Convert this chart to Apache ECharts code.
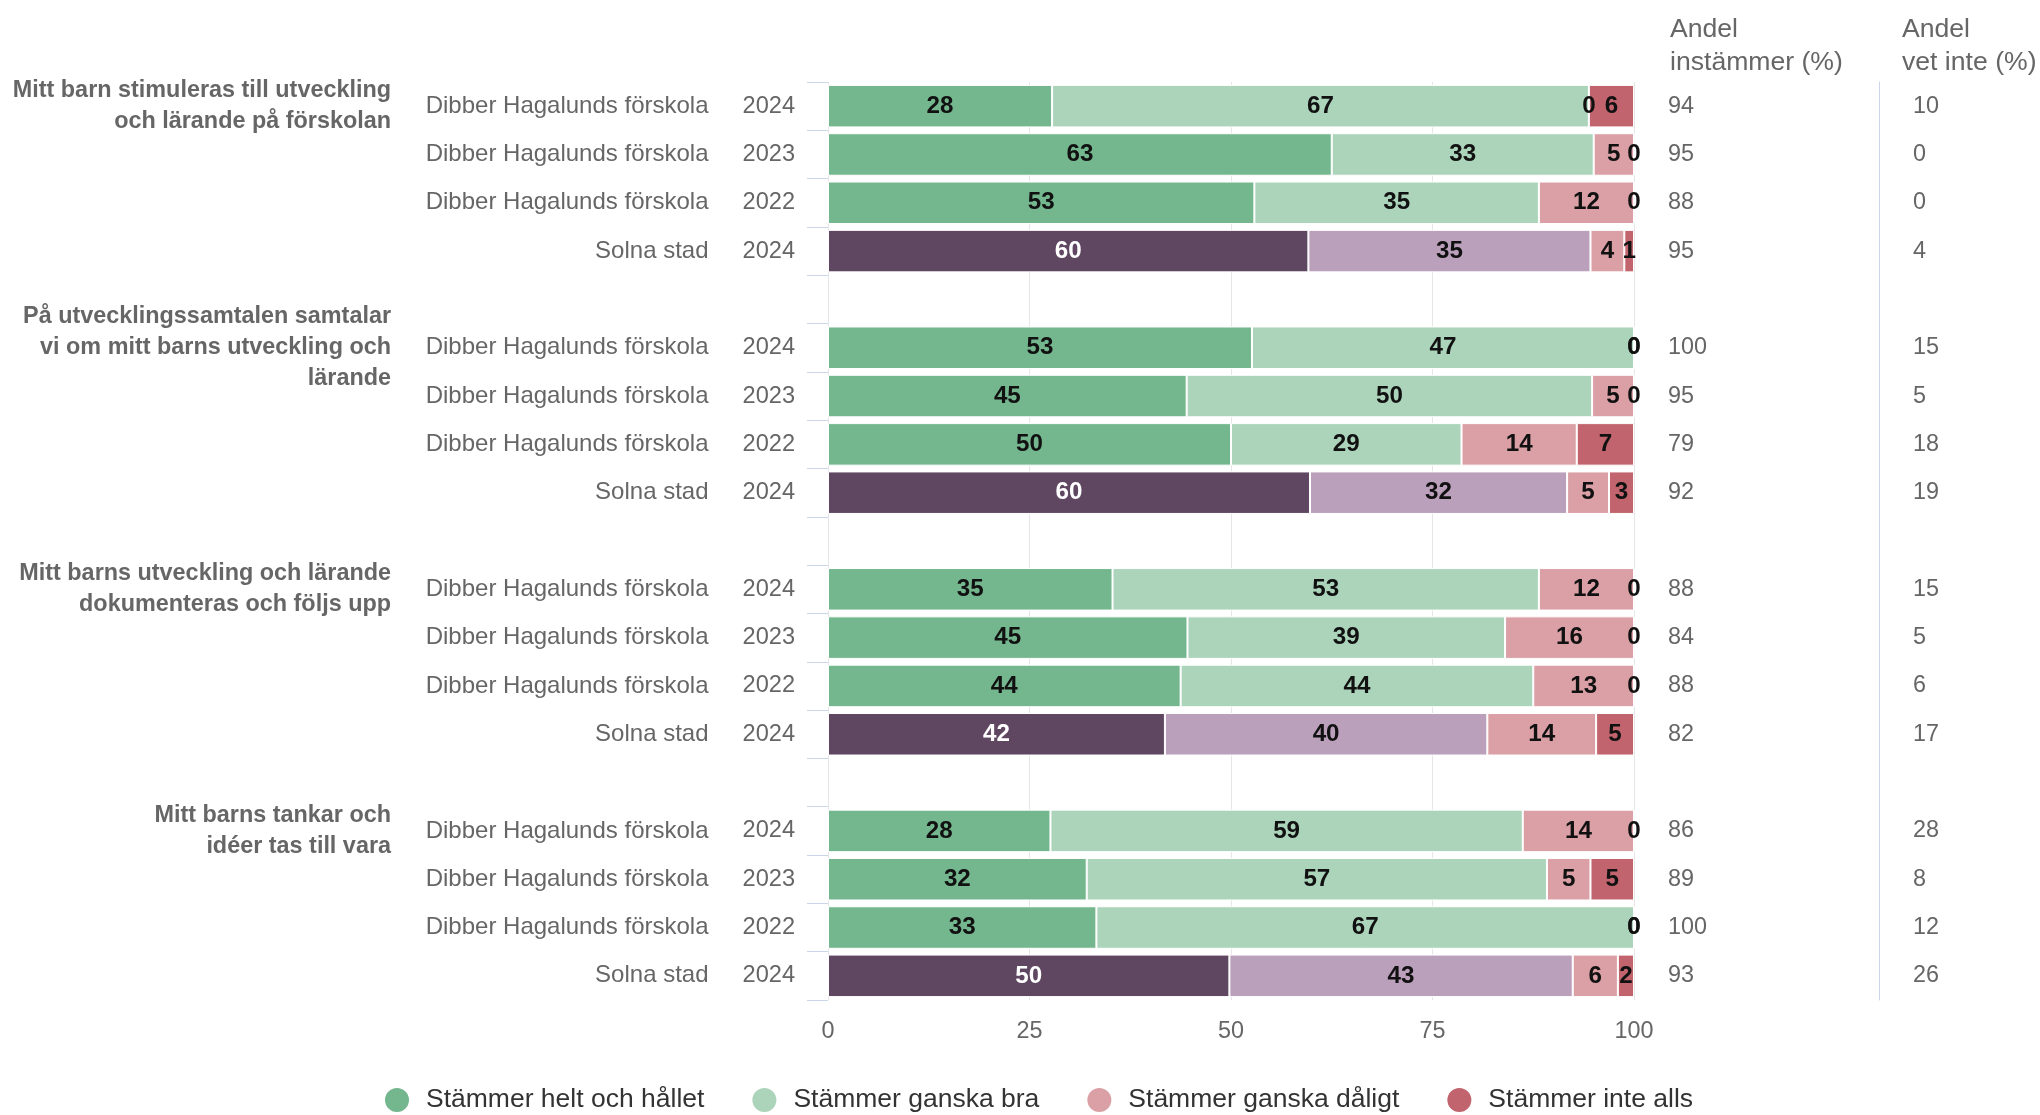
<!DOCTYPE html>
<html>
<head>
<meta charset="utf-8">
<script src="https://cdn.jsdelivr.net/npm/echarts@6/dist/echarts.min.js"></script>
<style>
html,body{margin:0;padding:0;background:#fff;}
#chart{width:2040px;height:1115px;}
</style>
</head>
<body>
<div id="chart"></div>
<script>
// ---- Data ----
const groupTitles = [
  'Mitt barn stimuleras till utveckling\noch lärande på förskolan',
  'På utvecklingssamtalen samtalar\nvi om mitt barns utveckling och\nlärande',
  'Mitt barns utveckling och lärande\ndokumenteras och följs upp',
  'Mitt barns tankar och\nidéer tas till vara'
];
const unitNames = ['Dibber Hagalunds förskola', 'Dibber Hagalunds förskola', 'Dibber Hagalunds förskola', 'Solna stad'];
const years = ['2024', '2023', '2022', '2024'];
const seriesNames = ['Stämmer helt och hållet', 'Stämmer ganska bra', 'Stämmer ganska dåligt', 'Stämmer inte alls'];

const heltOchHallet = [27.8, 62.5, 52.9, 59.6,  52.6, 44.5, 50.0, 59.8,  35.3, 44.6, 43.75, 41.8,  27.6, 32.1, 33.3, 49.8];
const ganskaBra     = [66.6, 32.5, 35.3, 35.0,  47.4, 50.3, 28.6, 31.9,  52.9, 39.4, 43.75, 40.0,  58.6, 57.1, 66.7, 42.6];
const ganskaDaligt  = [0,    5.0,  11.8, 4.2,   0,    5.2,  14.3, 5.2,   11.8, 16.0, 12.5,  13.5,  13.8, 5.4,  0,    5.6];
const inteAlls      = [5.6,  0,    0,    1.2,   0,    0,    7.1,  3.1,   0,    0,    0,     4.7,   0,    5.4,  0,    2.0];

const andelInstammer = [94, 95, 88, 95,  100, 95, 79, 92,  88, 84, 88, 82,  86, 89, 100, 93];
const andelVetInte   = [10, 0, 0, 4,     15, 5, 18, 19,    15, 5, 6, 17,    28, 8, 12, 26];

const xTicks = [0, 25, 50, 75, 100];

// ---- Styles ----
const FONT = '"Liberation Sans", Arial, sans-serif';
const colors = ['#74b78e', '#acd4bb', '#dba0a6', '#c1646d'];
const solnaColors = ['#5f4762', '#baa0bb'];

// ---- Build rows (blank row between groups) ----
const rows = []; // each: {g, r, idx} or null
groupTitles.forEach((t, g) => {
  if (g > 0) rows.push(null);
  for (let r = 0; r < 4; r++) rows.push({g, r, idx: g * 4 + r});
});
const rowKeys = rows.map((row, i) => row ? ('row-' + row.idx) : ('gap-' + i));

const valueSets = [heltOchHallet, ganskaBra, ganskaDaligt, inteAlls];

const series = seriesNames.map((name, s) => ({
  name,
  type: 'bar',
  stack: 'total',
  yAxisIndex: 0,
  barWidth: '88%',
  itemStyle: {color: colors[s], borderColor: '#ffffff', borderWidth: 1},
  label: {
    show: true,
    position: 'inside',
    fontFamily: FONT,
    fontSize: 24.2,
    fontWeight: 'bold',
    color: '#111',
    formatter: p => (p.value == null ? '' : String(Math.round(p.value)))
  },
  data: rows.map(row => {
    if (!row) return {value: null};
    const v = valueSets[s][row.idx];
    const isSolna = unitNames[row.r] === 'Solna stad';
    const item = {value: v};
    if (isSolna && s < 2) {
      item.itemStyle = {color: solnaColors[s]};
      if (s === 0) item.label = {color: '#ffffff'};
    }
    return item;
  })
}));

const chart = echarts.init(document.getElementById('chart'), null, {renderer: 'canvas'});
chart.setOption({
  animation: false,
  backgroundColor: '#ffffff',
  textStyle: {fontFamily: FONT},
  grid: {left: 828, right: 406, top: 82, bottom: 115},
  legend: {
    data: seriesNames,
    left: 378,
    top: 1081,
    icon: 'circle',
    itemWidth: 48,
    itemHeight: 26,
    itemGap: 46,
    textStyle: {fontFamily: FONT, fontSize: 26.5, color: '#333333'}
  },
  xAxis: {
    type: 'value',
    min: xTicks[0],
    max: xTicks[xTicks.length - 1],
    interval: 25,
    axisLine: {show: false},
    axisTick: {show: false},
    axisLabel: {fontFamily: FONT, fontSize: 23.4, color: '#666666', margin: 20},
    splitLine: {show: true, lineStyle: {color: '#e6e6e6', width: 1}}
  },
  yAxis: [
    {
      type: 'category',
      position: 'left',
      inverse: true,
      data: rowKeys,
      axisLine: {show: false},
      axisTick: {show: true, length: 21, lineStyle: {color: '#ccd6eb', width: 1}},
      axisLabel: {
        interval: 0,
        margin: 33,
        fontFamily: FONT,
        fontSize: 24,
        color: '#666666',
        formatter: (value, index) => {
          const row = rows[index];
          if (!row) return '';
          return '{n|' + unitNames[row.r] + '}{y|' + years[row.r] + '}';
        },
        rich: {
          n: {fontFamily: FONT, fontSize: 24, color: '#666666', padding: [0, 34, 0, 0]},
          y: {fontFamily: FONT, fontSize: 23.6, color: '#666666'}
        }
      }
    },
    {
      type: 'category',
      position: 'left',
      inverse: true,
      offset: 437,
      data: rowKeys,
      axisLine: {show: false},
      axisTick: {show: false},
      axisLabel: {
        interval: 0,
        margin: 0,
        fontFamily: FONT,
        fontSize: 23.4,
        fontWeight: 'bold',
        lineHeight: 31,
        color: '#666666',
        align: 'right',
        formatter: (value, index) => {
          const row = rows[index];
          if (!row || row.r !== 0) return '';
          return groupTitles[row.g];
        }
      }
    },
    {
      type: 'category',
      position: 'right',
      inverse: true,
      offset: 0,
      data: rowKeys,
      axisLine: {show: false},
      axisTick: {show: false},
      axisLabel: {
        interval: 0,
        margin: 34,
        fontFamily: FONT,
        fontSize: 23.4,
        color: '#666666',
        formatter: (value, index) => {
          const row = rows[index];
          return row ? String(andelInstammer[row.idx]) : '';
        }
      }
    },
    {
      type: 'category',
      position: 'right',
      inverse: true,
      offset: 245,
      data: rowKeys,
      axisLine: {show: true, lineStyle: {color: '#ccd6eb', width: 1}},
      axisTick: {show: false},
      axisLabel: {
        interval: 0,
        margin: 34,
        fontFamily: FONT,
        fontSize: 23.4,
        color: '#666666',
        formatter: (value, index) => {
          const row = rows[index];
          return row ? String(andelVetInte[row.idx]) : '';
        }
      }
    }
  ],
  graphic: [
    {type: 'text', left: 1670, top: 13, style: {text: 'Andel\ninstämmer (%)', fontFamily: FONT, fontSize: 26.6, lineHeight: 33, fill: '#666666'}},
    {type: 'text', left: 1902, top: 13, style: {text: 'Andel\nvet inte (%)', fontFamily: FONT, fontSize: 26.6, lineHeight: 33, fill: '#666666'}}
  ],
  series
});
</script>
</body>
</html>
